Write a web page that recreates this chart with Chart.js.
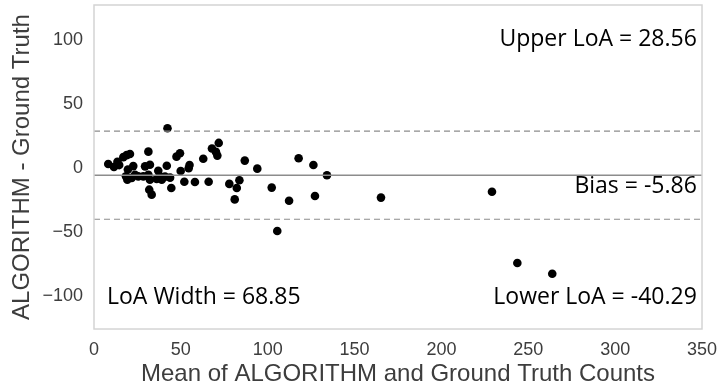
<!DOCTYPE html>
<html>
<head>
<meta charset="utf-8">
<script src="https://cdn.jsdelivr.net/npm/chart.js@4.4.1/dist/chart.umd.min.js"></script>
<style>
html,body{margin:0;padding:0;background:#fff}
#wrap{width:720px;height:391px}
</style>
</head>
<body>
<div id="wrap"><canvas id="bland"></canvas></div>
<script>

// mean of the two counts (x) and difference (y)
const meanVals=[8.2,11.5,13.5,14.5,16.9,18.8,20.7,22.6,19.5,18.4,19.2,21.7,23.6,25.5,31.3,29.4,32.2,28.4,31.3,32.2,31.8,33.2,37.0,38.0,36.1,39.0,41.9,40.9,43.8,44.5,42.3,47.5,49.5,49.9,52.0,55.0,54.5,58.1,62.9,66.0,67.9,70.2,71.0,71.8,77.9,82.2,83.7,81.0,86.8,94.0,102.3,105.5,112.3,117.8,126.3,127.2,134.1,165.2,229.1,243.7,263.8]
const diffVals=[2.8,0.5,4.5,2.0,8.2,9.8,10.7,1.2,-1.5,-6.8,-9.4,-8.0,-5.5,-6.8,12.5,1.0,2.3,-6.8,-5.5,-9.4,-17.2,-21.1,-2.5,-6.8,-8.8,-9.4,1.5,-7.0,-7.8,-15.9,30.8,8.6,11.2,-2.6,-11.0,2.0,-0.5,-11.2,7.0,-11.0,15.0,12.3,9.4,19.3,-12.7,-15.9,-9.9,-24.8,5.5,-0.8,-15.6,-49.5,-25.8,7.3,2.1,-22.1,-6.0,-23.4,-18.8,-74.5,-82.8]

const bias=-5.86
const upperLoA=28.56
const lowerLoA=-40.29
const loaWidth=68.85

const xRange=[0,350]
const yRange=[-126,127]
const xTicks=[0,50,100,150,200,250,300,350]
const yTicks=[-100,-50,0,50,100]

let points=[]
for(let i=0;i<meanVals.length;i++)
{
points.push({x:meanVals[i],y:diffVals[i]})
}

function hline(v)
{
return [{x:xRange[0],y:v},{x:xRange[1],y:v}]
}

function noOverhang(s)
{
s.paddingTop=0
s.paddingBottom=0
s.paddingLeft=0
s.paddingRight=0
}

const labelPlugin={
id:"labels",
afterDatasetsDraw(chart)
{
const ctx=chart.ctx
const a=chart.chartArea
const xs=chart.scales.x
const ys=chart.scales.y
ctx.save()
ctx.strokeStyle="#d4d4d4"
ctx.lineWidth=1.5
ctx.strokeRect(a.left,a.top,a.right-a.left,a.bottom-a.top)
ctx.fillStyle="#000"
ctx.font="23px 'Open Sans'"
ctx.textBaseline="middle"
ctx.textAlign="right"
ctx.fillText("Upper LoA = "+upperLoA.toFixed(2),xs.getPixelForValue(347),ys.getPixelForValue(100))
ctx.fillText("Bias = "+bias.toFixed(2),xs.getPixelForValue(347),ys.getPixelForValue(-15))
ctx.fillText("Lower LoA = "+lowerLoA.toFixed(2),xs.getPixelForValue(347),ys.getPixelForValue(-101))
ctx.textAlign="left"
ctx.fillText("LoA Width = "+loaWidth.toFixed(2),xs.getPixelForValue(7.5),ys.getPixelForValue(-101))
ctx.restore()
}
}

new Chart(document.getElementById("bland"),
{
type:"scatter",
data:
{
datasets:[
{
label:"bias",
type:"line",
data:hline(bias),
borderColor:"#8c8c8c",
borderWidth:1.5,
pointRadius:0
},
{
label:"upper",
type:"line",
data:hline(upperLoA),
borderColor:"#8c8c8c",
borderWidth:1.2,
borderDash:[6,4],
pointRadius:0
},
{
label:"lower",
type:"line",
data:hline(lowerLoA),
borderColor:"#8c8c8c",
borderWidth:1.2,
borderDash:[6,4],
pointRadius:0
},
{
label:"points",
data:points,
backgroundColor:"#000",
borderColor:"#000",
pointRadius:4.3,
borderWidth:0
}
]
},
options:
{
responsive:true,
maintainAspectRatio:false,
animation:false,
layout:{padding:{left:0,top:5,right:18,bottom:0}},
plugins:{legend:{display:false},tooltip:{enabled:false}},
scales:
{
x:
{
type:"linear",
min:xRange[0],
max:xRange[1],
afterBuildTicks(s){s.ticks=xTicks.map(v=>({value:v}))},
afterFit(s){s.height=62;noOverhang(s)},
grid:{display:false,drawTicks:false},
border:{display:false},
ticks:{color:"#3d3d3d",font:{family:"Liberation Sans",size:18},padding:10},
title:{display:true,text:"Mean of ALGORITHM and Ground Truth Counts",color:"#3d3d3d",font:{family:"Liberation Sans",size:24},padding:{top:0,bottom:2}}
},
y:
{
type:"linear",
min:yRange[0],
max:yRange[1],
afterBuildTicks(s){s.ticks=yTicks.map(v=>({value:v}))},
afterFit(s){s.width=94;noOverhang(s)},
grid:{display:false,drawTicks:false},
border:{display:false},
ticks:{color:"#3d3d3d",font:{family:"Liberation Sans",size:18},padding:11,callback:v=>String(v).replace("-","\u2212")},
title:{display:true,text:"ALGORITHM - Ground Truth",color:"#3d3d3d",font:{family:"Liberation Sans",size:24},padding:{top:8,bottom:0}}
}
}
},
plugins:[labelPlugin]
})

</script>
</body>
</html>
